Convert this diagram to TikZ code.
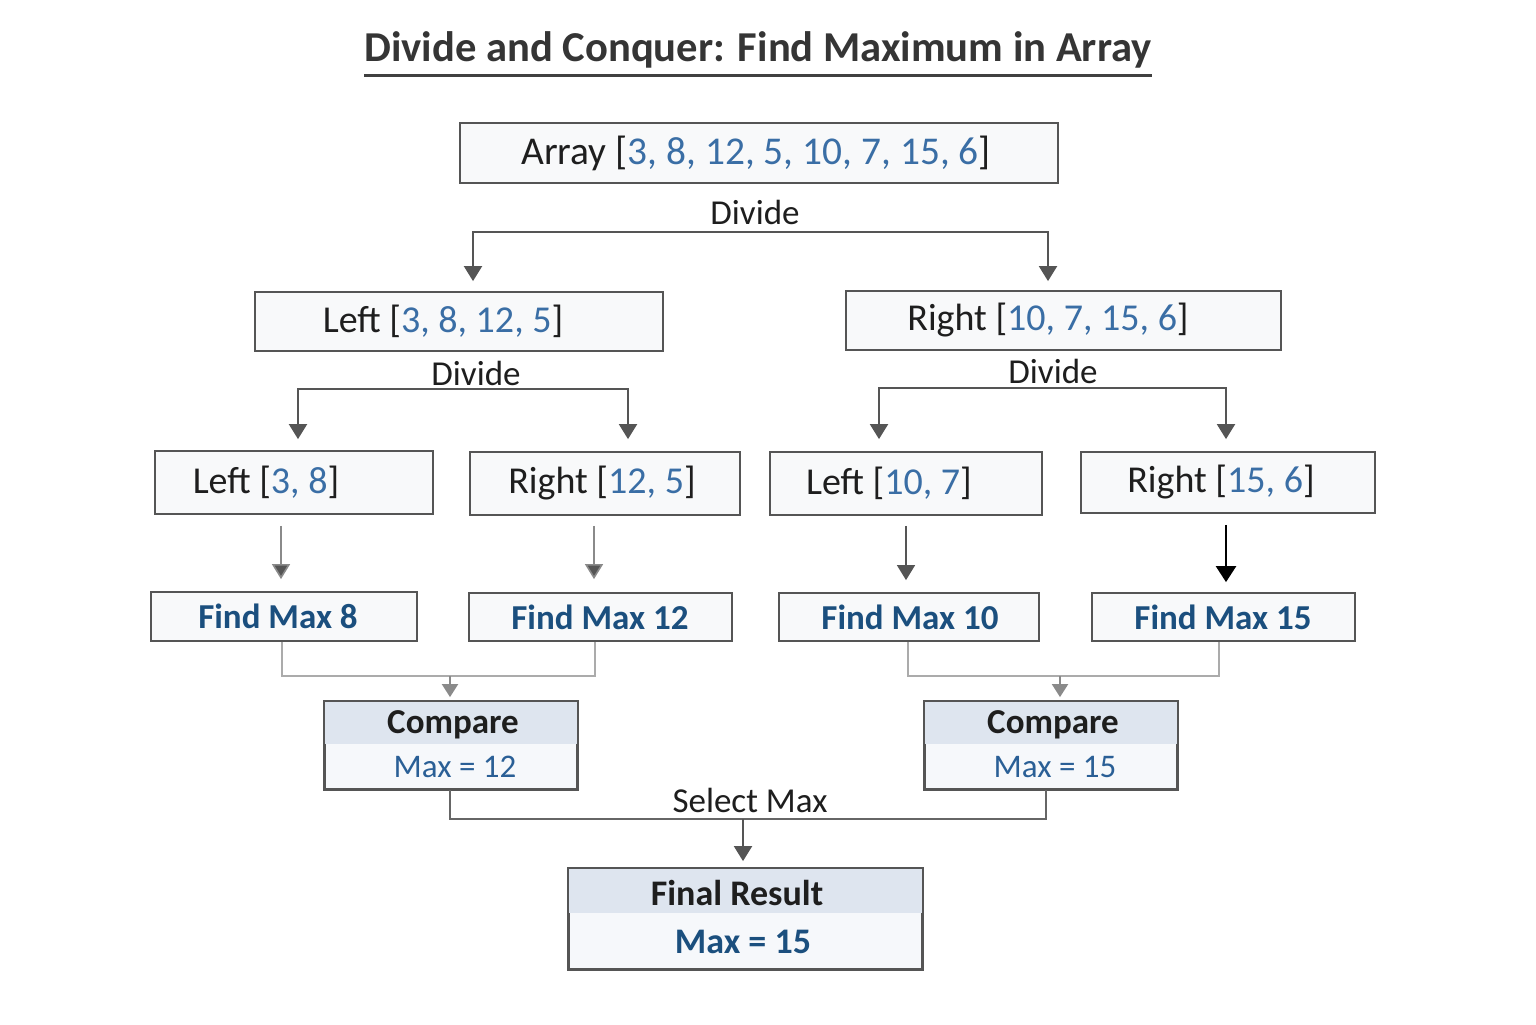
\documentclass[tikz,border=0pt]{standalone}
\usepackage{fontspec}
\setmainfont{Carlito}
\usetikzlibrary{arrows.meta}
\definecolor{ink}{HTML}{1E1E1E}
\definecolor{edge}{HTML}{555555}
\definecolor{num}{HTML}{3A6EA5}
\definecolor{dblue}{HTML}{1B4F7E}
\definecolor{mblue}{HTML}{2A5F96}
\definecolor{boxfill}{HTML}{F8F9FA}
\definecolor{hdr}{HTML}{DEE5EF}
\definecolor{body}{HTML}{F6F8FB}
\definecolor{lgrey}{HTML}{ABABAB}
\definecolor{mgrey}{HTML}{8A8A8A}
\begin{document}
\begin{tikzpicture}[x=0.5pt,y=-0.5pt,
  box/.style={draw=edge, line width=0.9pt, fill=boxfill, inner sep=0pt},
  txt/.style={inner sep=0pt, text=ink, font=\fontsize{19}{22}\selectfont},
  fmtxt/.style={inner sep=0pt, text=dblue, font=\fontsize{17.5}{21}\selectfont\bfseries},
  lbl/.style={inner sep=0pt, text=ink, font=\fontsize{17.5}{21}\selectfont},
  arr/.style={draw=edge, line width=1pt, -{Triangle[width=9pt,length=7.5pt]}},
  arrthin/.style={draw=mgrey, line width=0.8pt, -{Triangle[width=9pt,length=7.5pt,fill=edge]}},
  merge/.style={draw=lgrey, line width=1.3pt},
  mergearr/.style={draw=mgrey, line width=1pt, -{Triangle[width=8pt,length=6.5pt]}},
]
\useasboundingbox (0,0) rectangle (1536,1024);
\fill[white] (0,0) rectangle (1536,1024);

% title
\node[inner sep=0pt, text=ink!90, font=\fontsize{21.3}{25}\selectfont\bfseries] (title) at (758,50) {Divide and Conquer: Find Maximum in Array};
\draw[line width=1.3pt, draw=ink!85] ([yshift=-3.5pt]title.south west) -- ([yshift=-3.5pt]title.south east);

% level 1
\node[box, minimum width=299pt, minimum height=30pt] (arr) at (759,153) {};
\node[txt, font=\fontsize{19.7}{24}\selectfont] (arrT) at (756,153) {Array [\textcolor{num}{3, 8, 12, 5, 10, 7, 15, 6}]};

% level 2
\node[box, minimum width=204pt, minimum height=29.5pt] (lft) at (459,321.5) {};
\node[txt] (lftT) at (443,321.5) {Left [\textcolor{num}{3, 8, 12, 5}]};
\node[box, minimum width=217.5pt, minimum height=29.5pt] (rgt) at (1063.5,320.5) {};
\node[txt] (rgtT) at (1048,320.5) {Right [\textcolor{num}{10, 7, 15, 6}]};

% level 3
\node[box, minimum width=139pt, minimum height=31.5pt] (ll) at (294,482.5) {};
\node[txt] (llT) at (266,482.5) {Left [\textcolor{num}{3, 8}]};
\node[box, minimum width=135pt, minimum height=31.5pt] (lr) at (605,483.5) {};
\node[txt] (lrT) at (602,483.5) {Right [\textcolor{num}{12, 5}]};
\node[box, minimum width=136pt, minimum height=31.5pt] (rl) at (906,483.5) {};
\node[txt] (rlT) at (889,483.5) {Left [\textcolor{num}{10, 7}]};
\node[box, minimum width=147pt, minimum height=30.5pt] (rr) at (1228,482.5) {};
\node[txt] (rrT) at (1221,482.5) {Right [\textcolor{num}{15, 6}]};

% find max
\node[box, minimum width=133pt, minimum height=24.5pt] (fm8) at (284,616.5) {};
\node[fmtxt] (fm8T) at (278,616.5) {Find Max 8};
\node[box, minimum width=131.5pt, minimum height=24pt] (fm12) at (600.5,617) {};
\node[fmtxt] (fm12T) at (600,617) {Find Max 12};
\node[box, minimum width=130pt, minimum height=24pt] (fm10) at (909,617) {};
\node[fmtxt] (fm10T) at (910,617) {Find Max 10};
\node[box, minimum width=131.5pt, minimum height=24pt] (fm15) at (1223.5,617) {};
\node[fmtxt] (fm15T) at (1223,617) {Find Max 15};

% compare boxes
\foreach \nm/\cx/\tx/\val in {cmpL/451/455/12, cmpR/1051/1055/15}{
  \node[box, fill=body, minimum width=126pt, minimum height=43.5pt] (\nm) at (\cx,745.5) {};
  \fill[hdr] (\nm.north west) rectangle ([yshift=-21.5pt]\nm.north east);
  \draw[draw=edge, line width=0.9pt] (\nm.north west) rectangle (\nm.south east);
  \node[inner sep=0pt, text=ink, font=\fontsize{17.5}{21}\selectfont\bfseries] (\nm H) at (\cx+2,725) {Compare};
  \node[inner sep=0pt, text=mblue, font=\fontsize{16.5}{20}\selectfont] (\nm V) at (\tx,767) {Max = \val};
}

% final
\node[box, fill=body, minimum width=176.5pt, minimum height=50pt] (fin) at (745.5,919) {};
\fill[hdr] (fin.north west) rectangle ([yshift=-22.5pt]fin.north east);
\draw[draw=edge, line width=0.9pt] (fin.north west) rectangle (fin.south east);
\node[inner sep=0pt, text=ink, font=\fontsize{18}{22}\selectfont\bfseries] (finH) at (737,893) {Final Result};
\node[inner sep=0pt, text=dblue, font=\fontsize{18}{22}\selectfont\bfseries] (finV) at (743,942) {Max = 15};

% divide 1
\node[lbl] (div1) at (755,212) {Divide};
\coordinate (d1) at (760,232);
\coordinate (d1a) at ([xshift=7pt,yshift=5pt]lft.north);
\coordinate (d1b) at ([xshift=-7.75pt,yshift=4.5pt]rgt.north);
\draw[arr] (d1) -| (d1a);
\draw[arr] (d1) -| (d1b);

% divide 2
\node[lbl] (div2) at (476,373) {Divide};
\coordinate (d2) at (476,389);
\coordinate (d2a) at ([xshift=2pt,yshift=5.5pt]ll.north);
\coordinate (d2b) at ([xshift=11.5pt,yshift=6pt]lr.north);
\draw[arr] (d2) -| (d2a);
\draw[arr] (d2) -| (d2b);

\node[lbl] (div3) at (1053,371) {Divide};
\coordinate (d3) at (1053,388);
\coordinate (d3a) at ([xshift=-13.5pt,yshift=6pt]rl.north);
\coordinate (d3b) at ([xshift=-1pt,yshift=6pt]rr.north);
\draw[arr] (d3) -| (d3a);
\draw[arr] (d3) -| (d3b);

% level3 -> find max
\coordinate (a1s) at ([xshift=-6.5pt,yshift=-5.5pt]ll.south);
\coordinate (a1e) at ([yshift=6pt]a1s |- fm8.north);
\draw[arrthin] (a1s) -- (a1e);
\coordinate (a2s) at ([xshift=-5.5pt,yshift=-5pt]lr.south);
\coordinate (a2e) at ([yshift=6.5pt]a2s |- fm12.north);
\draw[arrthin] (a2s) -- (a2e);
\coordinate (a3s) at ([xshift=0pt,yshift=-5pt]rl.south);
\coordinate (a3e) at ([yshift=6pt]a3s |- fm10.north);
\draw[arrthin, draw=edge] (a3s) -- (a3e);
\coordinate (a4s) at ([xshift=-1pt,yshift=-5.5pt]rr.south);
\coordinate (a4e) at ([yshift=5pt]a4s |- fm15.north);
\draw[draw=black, line width=1.3pt, -{Triangle[width=10pt,length=8pt]}] (a4s) -- (a4e);

% merges
\coordinate (jL) at (450,676);
\draw[merge] ([xshift=-1pt]fm8.south) |- (jL) -| ([xshift=-2.75pt]fm12.south);
\draw[mergearr] (jL) -- ([yshift=2pt]jL |- cmpL.north);
\coordinate (jR) at (1060,676);
\draw[merge] ([xshift=-0.5pt]fm10.south) |- (jR) -| ([xshift=-2.25pt]fm15.south);
\draw[mergearr] (jR) -- ([yshift=2pt]jR |- cmpR.north);

% select max
\node[lbl] (selT) at (750,800) {Select Max};
\coordinate (sel) at (743,819);
\draw[draw=edge!90, line width=1.2pt] ([xshift=-0.5pt]cmpL.south) |- (sel) -| ([xshift=-2.5pt]cmpR.south);
\draw[arr] (sel) -- ([yshift=3.5pt]sel |- fin.north);
\end{tikzpicture}
\end{document}
